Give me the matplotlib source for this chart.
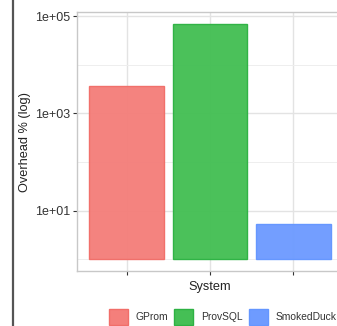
import numpy as np
import matplotlib
matplotlib.use("Agg")
import matplotlib.pyplot as plt
from matplotlib.patches import Patch
from matplotlib.ticker import FixedLocator, NullFormatter

plt.rcParams['font.family'] = ['Liberation Sans', 'DejaVu Sans']

systems = ['GProm', 'ProvSQL', 'SmokedDuck']
overhead = [3600, 70000, 5.2]
fills = ['#F47F7B', '#45BF55', '#6E9BFF']
edges = ['#F16E69', '#2DB243', '#6496FF']
ytick_vals = [1e1, 1e3, 1e5]
ytick_labels = ['1e+01', '1e+03', '1e+05']

W, H = 337, 326
fig = plt.figure(figsize=(W / 100, H / 100), dpi=100)

# panel is cut off on the right edge in the reference
x0, x1, y0, y1 = 77, 343, 12, 271
ax = fig.add_axes([x0 / W, 1 - y1 / H, (x1 - x0) / W, (y1 - y0) / H])

pos = np.arange(1, len(systems) + 1)
ax.set_yscale('log')
# bars start at 10^0 like ggplot's log scale
ax.bar(pos, np.array(overhead) - 1, bottom=1, width=0.9, color=fills,
       alpha=0.97, edgecolor=edges, linewidth=1.0, zorder=2)

lo, hi = 0.0, np.log10(max(overhead))
pad = 0.05 * (hi - lo)
ax.set_ylim(10 ** (lo - pad), 10 ** (hi + pad))
ax.set_xlim(0.4, 3.6)

ax.yaxis.set_major_locator(FixedLocator(ytick_vals))
ax.set_yticklabels(ytick_labels)
ax.yaxis.set_minor_locator(FixedLocator([1e0, 1e2, 1e4]))
ax.yaxis.set_minor_formatter(NullFormatter())
ax.set_xticks(pos)
ax.set_xticklabels([])

ax.grid(True, which='major', color='#E3E3E3', linewidth=1.0, zorder=0)
ax.grid(True, which='minor', axis='y', color='#EEEEEE', linewidth=0.7, zorder=0)
ax.set_axisbelow(True)

for s in ax.spines.values():
    s.set_color('#C8C8C8')
    s.set_linewidth(1.0)

ax.tick_params(axis='both', which='major', length=3, width=0.8, color='#333333',
               labelsize=9, labelcolor='#333333', pad=2)
ax.tick_params(axis='y', which='minor', length=0)

ax.set_xlabel('System', fontsize=9.2, color='#222222', labelpad=2)
ax.set_ylabel('Overhead % (log)', fontsize=9.2, color='#222222', labelpad=3)

handles = [Patch(facecolor=f, edgecolor=e) for f, e in zip(fills, edges)]
fig.legend(handles, systems, loc='upper left', bbox_to_anchor=(109 / W, 1 - 309 / H),
           ncol=3, frameon=False, fontsize=7.4, handlelength=1.85, handleheight=2.0,
           columnspacing=0.62, handletextpad=0.72, labelcolor='#333333',
           borderaxespad=0, borderpad=0)

# dark vertical line at the left edge of the reference
fig.add_artist(plt.Line2D([13 / W, 13 / W], [0, 1], color='#555555', linewidth=1.6,
                          transform=fig.transFigure))

fig.savefig('out.png', dpi=100)
